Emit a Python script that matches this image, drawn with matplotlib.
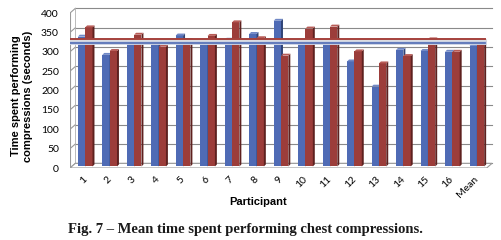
import numpy as np
import matplotlib
matplotlib.use("Agg")
import matplotlib.pyplot as plt
from matplotlib.patches import Polygon

# values (seconds)
participants = [str(i) for i in range(1, 17)] + ["Mean"]
series_a = [335, 288, 323, 320, 338, 320, 327, 342, 376, 315, 320, 271, 206, 301, 298, 296, 311]
series_b = [359, 298, 340, 309, 326, 337, 372, 331, 286, 356, 361, 297, 266, 285, 328, 296, 321]
mean_a, mean_b = 311, 321

BLUE, BLUE_SIDE, BLUE_TOP = "#4f6bb5", "#2e4376", "#7088c6"
RED, RED_SIDE, RED_TOP = "#9c3d3a", "#5e211f", "#b85c57"
GRID = "#8a8a8a"

# fake 3D projection: depth offset of the back wall, and of the bars
DX, DY = 0.22, 12
SDX, SDY = 0.08, 5
BASE = 4
XL, XR = -0.62, 16.4
W = 0.3

fig = plt.figure(figsize=(5.01, 2.40), dpi=100)
ax = fig.add_axes([0.1397, 0.3, 0.8463, 0.67])
ax.set_xlim(XL, 16.7)
ax.set_ylim(0, 415)
for s in ax.spines.values():
    s.set_visible(False)

# back wall gridlines + left wall
for g in range(0, 401, 50):
    ax.plot([XL + DX, XR + DX], [g + DY, g + DY], color=GRID, lw=0.8, zorder=1)
    ax.plot([XL, XL + DX], [g, g + DY], color="#9a9a9a", lw=0.8, zorder=1)
ax.plot([XL, XL], [0, 400], color="#9a9a9a", lw=0.8, zorder=1)
ax.plot([XL + DX, XL + DX], [DY, 400 + DY], color="#b0b0b0", lw=0.6, zorder=1)
# floor
ax.add_patch(Polygon([(XL, 0), (XR, 0), (XR + DX, DY), (XL + DX, DY)],
                     closed=True, fc="white", ec="#9a9a9a", lw=0.8, zorder=1.5))

x = np.arange(len(participants))


def bars3d(xs, vals, front, side, top):
    bs = ax.bar(xs, vals, width=W, bottom=BASE, color=front, lw=0, zorder=3)
    for b in bs:
        x0, x1 = b.get_x(), b.get_x() + b.get_width()
        y0, y1 = b.get_y(), b.get_y() + b.get_height()
        ax.add_patch(Polygon([(x1, y0), (x1 + SDX, y0 + SDY), (x1 + SDX, y1 + SDY), (x1, y1)],
                             closed=True, fc=side, lw=0, zorder=3))
        ax.add_patch(Polygon([(x0, y1), (x1, y1), (x1 + SDX, y1 + SDY), (x0 + SDX, y1 + SDY)],
                             closed=True, fc=top, lw=0, zorder=3))


bars3d(x - W / 2, series_a, BLUE, BLUE_SIDE, BLUE_TOP)
bars3d(x + W / 2, series_b, RED, RED_SIDE, RED_TOP)

# mean lines
xe = [XL, XR - 0.05]
ax.plot(xe, [mean_b + DY - 3] * 2, color="#dcdce0", lw=2.2, zorder=4)
ax.plot(xe, [mean_b + DY] * 2, color="#a5413c", lw=1.4, zorder=5)
ax.plot(xe, [mean_a + DY] * 2, color="#ccd3e4", lw=2.8, zorder=4)
ax.plot(xe, [mean_a + DY] * 2, color="#5b74b8", lw=1.3, zorder=5)

ax.set_yticks(range(0, 401, 50))
ax.set_yticklabels([str(v) for v in range(0, 401, 50)], fontsize=7.5, family="Lato")
ax.set_xticks(x)
ax.set_xticklabels(participants, fontsize=7.5, family="Lato", rotation=45,
                   ha="right", va="center", rotation_mode="anchor")
ax.tick_params(axis="both", length=0)
ax.tick_params(axis="y", pad=8)
ax.tick_params(axis="x", pad=7)

fig.text(0.044, 0.60, "Time spent performing\ncompressions (seconds)", rotation=90,
         ha="center", va="center", fontsize=8, fontweight="bold",
         family="Liberation Sans", linespacing=1.15)
fig.text(0.515, 0.158, "Participant", ha="center", va="center", fontsize=8,
         fontweight="bold", family="Liberation Sans")
fig.text(0.136, 0.042, "Fig. 7 \u2013 Mean time spent performing chest compressions.",
         ha="left", va="center", fontsize=10.5, fontweight="bold", family="Liberation Serif",
         color="#1a1a1a")

fig.savefig("out.png", dpi=100)
